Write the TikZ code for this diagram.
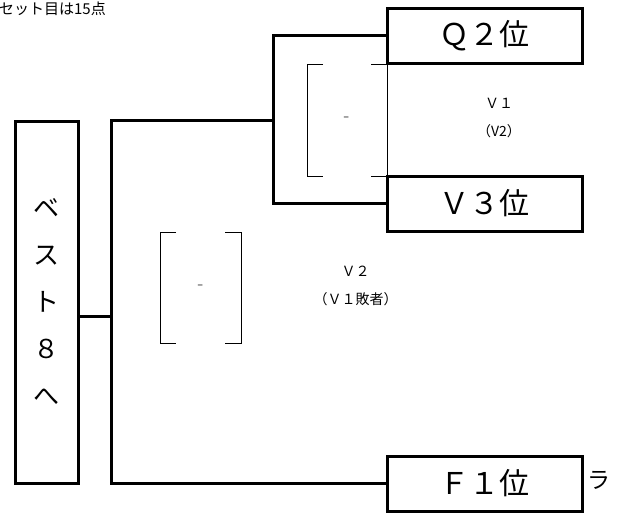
\documentclass[tikz,border=0pt]{standalone}
\usepackage{fontspec}
\setmainfont{Noto Sans CJK JP}
\usetikzlibrary{positioning}

\tikzset{
  rankbox/.style={draw,line width=3pt,outer sep=0pt,inner sep=0pt,
    minimum width=195pt,minimum height=55pt,font=\fontsize{30}{30}\selectfont},
  bracketline/.style={line width=3pt},
  scorebox/.style={inner sep=0pt,outer sep=0pt,text=black!55,
    font=\fontsize{18}{18}\selectfont},
  note/.style={align=center,inner sep=0pt,font=\fontsize{14}{28}\selectfont}
}

\begin{document}
\begin{tikzpicture}[x=1pt,y=-1pt]
  \useasboundingbox (0,0) rectangle (624,512);
  % title, cut at the left edge
  \node[anchor=east,inner sep=0pt,font=\fontsize{15}{15}\selectfont] (title) at (106,8.5) {セット目は15点};
  % ranking boxes
  \node[rankbox] (q2) at (484.5,35.5) {Ｑ２位};
  \node[rankbox] (v3) at (484.5,203.5) {Ｖ３位};
  \node[rankbox] (f1) at (484.5,483.5) {Ｆ１位};
  \node[draw,line width=3pt,outer sep=0pt,minimum width=63pt,minimum height=362pt,
    align=center,font=\fontsize{26}{47}\selectfont] (best8) at (46.5,302) {ベ\\ス\\ト\\８\\へ};
  \node[inner sep=0pt,font=\fontsize{23}{23}\selectfont] (ra) at (599,480) {ラ};
  % junctions
  \coordinate (semi) at (273,120);
  \coordinate (root) at (111,316);
  \draw[bracketline] (q2.west) -| (semi) |- (v3.west);
  \draw[bracketline] (semi) -| (root) |- (f1.west);
  \draw[bracketline] (best8.east |- root) -- (root);
  \draw[thin] (q2.south west) -- (v3.north west);
  % score brackets
  \node[scorebox,minimum width=80pt,minimum height=112pt] (sc1) at (347,120) {-};
  \node[scorebox,minimum width=81pt,minimum height=111pt] (sc2) at (200.5,287.5) {-};
  \draw[thin] ([xshift=16pt]sc1.north west) -- (sc1.north west) -- (sc1.south west) -- ([xshift=16pt]sc1.south west);
  \draw[thin] ([xshift=-16pt]sc1.north east) -- (sc1.north east);
  \draw[thin] ([xshift=-16pt]sc1.south east) -- (sc1.south east);
  \draw[thin] ([xshift=16pt]sc2.north west) -- (sc2.north west) -- (sc2.south west) -- ([xshift=16pt]sc2.south west);
  \draw[thin] ([xshift=-16pt]sc2.north east) -- (sc2.north east) -- (sc2.south east) -- ([xshift=-16pt]sc2.south east);
  % match notes
  \node[note] (v1note) at (499,118) {Ｖ１\\（V2）};
  \node[note] (v2note) at (355.5,285.5) {Ｖ２\\（Ｖ１敗者）};
\end{tikzpicture}
\end{document}
